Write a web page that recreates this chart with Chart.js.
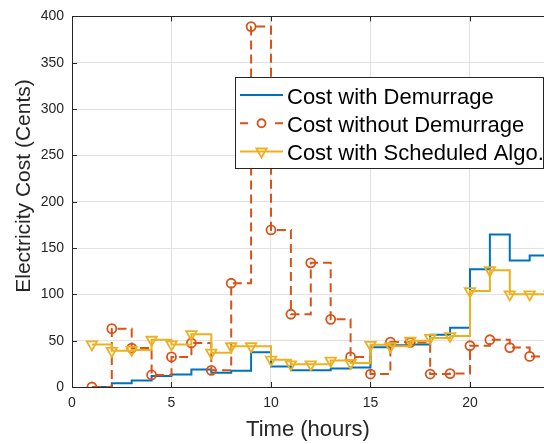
<!DOCTYPE html>
<html><head><meta charset="utf-8">
<script src="https://cdn.jsdelivr.net/npm/chart.js@4/dist/chart.umd.min.js"></script>
<style>html,body{margin:0;padding:0;background:#fff;overflow:hidden}canvas{display:block}</style>
</head><body>
<canvas id="c" width="544" height="444"></canvas>
<script>
const hours = [1,2,3,4,5,6,7,8,9,10,11,12,13,14,15,16,17,18,19,20,21,22,23,24];
const costWithDemurrage    = [0,4,7,12,13.6,19,15.4,17.5,37.5,22,18,18,20,21,43,45,46,56.5,64,127,164.5,136.5,142,142];
const costWithoutDemurrage = [0,63,42,13,32.5,47.5,18,112,389,169.5,78.5,134,73,32.5,14,48.5,48,14,14.5,44.5,51,42.5,33,33];
const costScheduled        = [46,39,40,51,46,57,37,44,44,29.5,24.5,24.5,28.5,26,45.5,44,50,53,55,103.5,126,100,100,100];
const seriesLabels = ['Cost with Demurrage','Cost without Demurrage','Cost with Scheduled Algo.'];
const xTickValues = [0,5,10,15,20];
const yTickValues = [0,50,100,150,200,250,300,350,400];
const xTitle = 'Time (hours)';
const yTitle = 'Electricity Cost (Cents)';

const BLUE='#0072BD', ORANGE='#D95319', YELLOW='#EDB120', AX='#262626', GRID='#e2e2e2';
const FONT='"Liberation Sans", Arial, Helvetica, sans-serif';
const toPts = arr => hours.map((h,i)=>({x:h,y:arr[i]}));

const framePlugin = {
  id:'frame',
  beforeDatasetsDraw(chart){
    const {ctx, chartArea:a, scales:{x,y}} = chart;
    ctx.save();
    ctx.strokeStyle=AX; ctx.lineWidth=1;
    ctx.beginPath();
    ctx.moveTo(a.left, Math.round(a.top)+0.5); ctx.lineTo(a.right, Math.round(a.top)+0.5);
    yTickValues.forEach(v=>{const p=Math.round(y.getPixelForValue(v))+0.5; ctx.moveTo(a.left,p); ctx.lineTo(a.left+5,p);});
    xTickValues.forEach(v=>{const p=Math.round(x.getPixelForValue(v))+0.5; ctx.moveTo(p,a.bottom); ctx.lineTo(p,a.bottom-5); ctx.moveTo(p,a.top); ctx.lineTo(p,a.top+5);});
    ctx.stroke();
    ctx.restore();
  },
  afterDraw(chart){
    const {ctx} = chart;
    ctx.save();
    ctx.translate(24.5,186);
    ctx.rotate(-Math.PI/2);
    ctx.fillStyle=AX; ctx.font='21px '+FONT; ctx.textAlign='center'; ctx.textBaseline='middle';
    ctx.fillText(yTitle,0,0);
    ctx.restore();
    ctx.save();
    ctx.fillStyle='#fff'; ctx.strokeStyle=AX; ctx.lineWidth=1;
    ctx.fillRect(235.5,77.5,308,91); ctx.strokeRect(235.5,77.5,308,91);
    const rows=[103.5,131.75,160];
    const colors=[BLUE,ORANGE,YELLOW];
    ctx.font='22px '+FONT; ctx.textBaseline='alphabetic'; ctx.textAlign='left';
    rows.forEach((b,i)=>{
      const ly=b-8.5;
      ctx.strokeStyle=colors[i]; ctx.lineWidth=2;
      ctx.beginPath();
      if(i===1){ ctx.moveTo(240,ly); ctx.lineTo(248,ly); ctx.moveTo(275,ly); ctx.lineTo(283,ly); }
      else { ctx.moveTo(240,ly); ctx.lineTo(283,ly); }
      ctx.stroke();
      if(i===1){ ctx.lineWidth=1.8; ctx.beginPath(); ctx.arc(261.5,ly,4,0,Math.PI*2); ctx.stroke(); }
      if(i===2){ const r=6; ctx.lineWidth=1.8; ctx.beginPath();
        ctx.moveTo(261.5-r*0.866, ly-r/2); ctx.lineTo(261.5+r*0.866, ly-r/2); ctx.lineTo(261.5, ly+r); ctx.closePath(); ctx.stroke(); }
      ctx.fillStyle='#000';
      ctx.fillText(seriesLabels[i],287,b);
    });
    ctx.restore();
  }
};

new Chart(document.getElementById('c'), {
  type:'line',
  data:{datasets:[
    {label:seriesLabels[0], data:toPts(costWithDemurrage), borderColor:BLUE, borderWidth:2, stepped:true, pointRadius:0, fill:false, order:2},
    {label:seriesLabels[1], data:toPts(costWithoutDemurrage), borderColor:ORANGE, borderWidth:2, borderDash:[9,5], stepped:true,
      pointStyle:'circle', pointRadius:4.5, pointBorderWidth:1.8, pointBorderColor:ORANGE, pointBackgroundColor:'rgba(0,0,0,0)', fill:false, order:1},
    {label:seriesLabels[2], data:toPts(costScheduled), borderColor:YELLOW, borderWidth:2, stepped:true,
      pointStyle:'triangle', pointRotation:180, pointRadius:6, pointBorderWidth:1.8, pointBorderColor:YELLOW, pointBackgroundColor:'rgba(0,0,0,0)', fill:false, order:0}
  ]},
  options:{
    responsive:false, animation:false, devicePixelRatio:1,
    layout:{autoPadding:false, padding:{top:15,right:0,bottom:0,left:0}},
    plugins:{legend:{display:false}, tooltip:{enabled:false}},
    scales:{
      x:{type:'linear', min:0, max:23.72,
        afterBuildTicks:s=>{s.ticks=xTickValues.map(v=>({value:v}));},
        afterFit:s=>{s.height=57; s.paddingRight=0; s.paddingLeft=0;},
        ticks:{font:{family:FONT,size:14}, color:AX, padding:8, maxRotation:0, autoSkip:false},
        grid:{color:GRID, drawTicks:false},
        border:{color:AX, width:1},
        title:{display:true, text:xTitle, color:AX, font:{family:FONT,size:22}, padding:{top:4,bottom:1}}
      },
      y:{type:'linear', min:0, max:400,
        afterBuildTicks:s=>{s.ticks=yTickValues.map(v=>({value:v}));},
        afterFit:s=>{s.width=72;},
        ticks:{font:{family:FONT,size:14}, color:AX, padding:8},
        grid:{color:GRID, drawTicks:false},
        border:{color:AX, width:1},
        title:{display:false}
      }
    }
  },
  plugins:[framePlugin]
});
</script>
</body></html>
